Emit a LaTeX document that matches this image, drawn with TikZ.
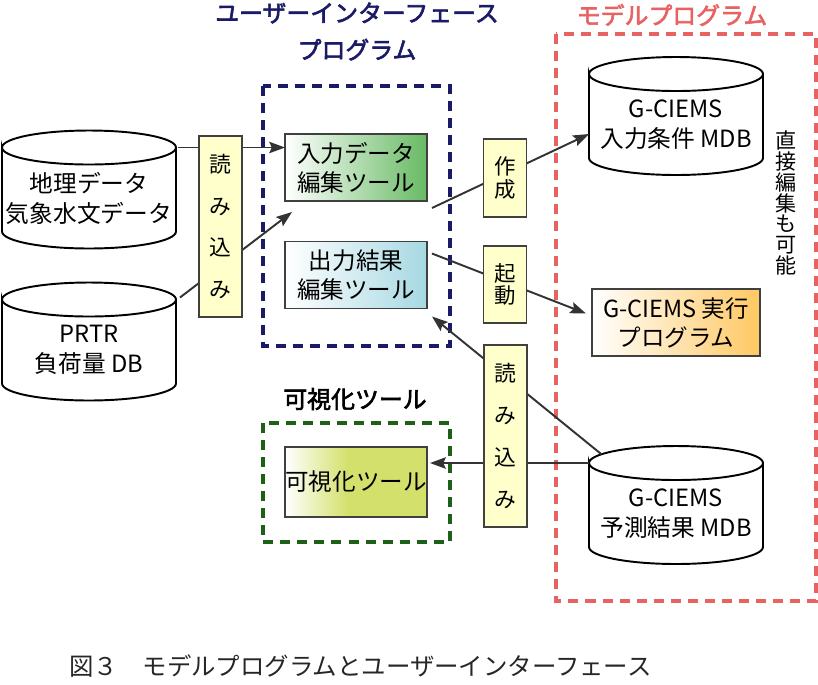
\documentclass[tikz,border=0pt]{standalone}
\usepackage{fontspec}
\setmainfont{Noto Sans CJK JP}
\newfontfamily\headfont[FakeBold=2.5]{Noto Sans CJK JP}
\usetikzlibrary{calc}
\usetikzlibrary{positioning}
\usetikzlibrary{arrows.meta}

\definecolor{uinavy}{RGB}{26,26,102}
\definecolor{modelred}{RGB}{232,98,98}
\definecolor{vizframe}{RGB}{30,96,24}
\definecolor{readfill}{RGB}{255,255,204}
\definecolor{ingreen}{RGB}{104,186,100}
\definecolor{outblue}{RGB}{166,216,226}
\definecolor{execorange}{RGB}{255,200,98}
\definecolor{vizgreen}{RGB}{212,224,108}
\definecolor{connline}{RGB}{51,51,51}
\pgfdeclarehorizontalshading{vizfade}{100bp}{color(0bp)=(white); color(25bp)=(white); color(47bp)=(vizgreen); color(100bp)=(vizgreen)}

\newcommand{\dbcylinder}[1]{%
  \draw[line width=1.1pt] ($(#1.north west)+(0,-17)$) arc[start angle=180, end angle=-180, x radius=1.74cm, y radius=0.34cm]
    -- (#1.south west) arc[start angle=180, end angle=360, x radius=1.74cm, y radius=0.34cm]
    -- ($(#1.north east)+(0,-17)$);}

\begin{document}
\begin{tikzpicture}[x=0.02cm, y=-0.02cm,
  db/.style={minimum width=3.48cm, minimum height=1.34cm, inner sep=0pt, outer sep=0pt, align=center, font=\fontsize{13.5}{17}\selectfont},
  tool/.style={draw=black!75, line width=0.85pt, minimum width=2.84cm, minimum height=1.34cm, inner sep=0pt, outer sep=0pt, align=center, font=\fontsize{13.4}{16.5}\selectfont},
  readbox/.style={draw=black!75, fill=readfill, line width=0.85pt, minimum width=0.86cm, inner sep=0pt, align=center},
  conn/.style={draw=connline, line width=1.1pt, -{Stealth[length=9pt, width=6.5pt, inset=1.5pt]}},
  groupbox/.style={line width=2pt, dash pattern=on 5.7pt off 4pt},
  title/.style={font=\headfont\fontsize{13.6}{21}\selectfont, align=center}]
\useasboundingbox (0,0) rectangle (818,684);

% group frames
\draw[groupbox, uinavy] (263,86) rectangle (450,346);
\draw[groupbox, modelred] (556,34) rectangle (816,601);
\draw[groupbox, vizframe] (263,423) rectangle (450,542);

% titles
\node[title, text=uinavy] (uititle) at (357,31.5) {ユーザーインターフェース\\プログラム};
\node[title, text=modelred] (modeltitle) at (672,15) {モデルプログラム};
\node[title] (viztitle) at (355,399) {可視化ツール};

% databases
\node[db] (geo) at (89,198) {地理データ\\気象水文データ};
\node[db] (prtr) at (89,350) {PRTR\\負荷量 DB};
\node[db] (inmdb) at (676,124.5) {G-CIEMS\\入力条件 MDB};
\node[db] (outmdb) at (676,513.5) {G-CIEMS\\予測結果 MDB};
\foreach \c in {geo,prtr,inmdb,outmdb} \dbcylinder{\c};

% tools
\node[tool, left color=white, right color=ingreen] (inedit) at (356,167.5) {入力データ\\編集ツール};
\node[tool, left color=white, right color=outblue] (outedit) at (356,275) {出力結果\\編集ツール};
\node[tool, left color=white, right color=execorange, minimum width=3.36cm] (exec) at (676,322.5) {G-CIEMS 実行\\プログラム};
\node[tool, shade, shading=vizfade, minimum height=1.4cm] (viz) at (356,482) {可視化ツール};

% connectors
\draw[conn] ($(geo.north east)+(2,-17)$) coordinate (geoout) -- (geoout -| inedit.west);
\draw[conn] ($(prtr.north east)+(4,-19)$) -- ($(inedit.south west)+(7,11)$);
\draw[conn] ($(inedit.south east)+(5,7)$) -- ($(inmdb.west)+(0,9.5)$);
\draw[conn] ($(outedit.north east)+(5,12)$) -- ($(exec.west)+(-6,-9)$);
\draw[conn] ($(outmdb.north)+(0,-17)+(149:1.74cm and 0.34cm)$) -- ($(outedit.south east)+(5,8)$);
\draw[conn] ($(outmdb.north west)+(0,-17)$) coordinate (mdbleft) -- ($(mdbleft -| viz.east)+(3,0)$);

% labels on the connectors
\node[readbox, minimum height=3.62cm, font=\fontsize{12.4}{23.8}\selectfont] (readA) at (220.5,226.5) {読\\み\\込\\み};
\node[readbox, minimum height=1.56cm, font=\fontsize{12.2}{12.6}\selectfont] (make) at (505,178) {作\\成};
\node[readbox, minimum height=1.54cm, font=\fontsize{12.2}{12.6}\selectfont] (start) at (505,284.5) {起\\動};
\node[readbox, minimum height=3.64cm, font=\fontsize{12.4}{23.8}\selectfont] (readB) at (505.5,436) {読\\み\\込\\み};

\node[font=\fontsize{12}{11.8}\selectfont, align=center] (direct) at (786,203) {直\\接\\編\\集\\も\\可\\能};

\node[anchor=west, inner sep=0pt, text=black!85, font=\fontsize{13.9}{16}\selectfont] (caption) at (69,666) {図３　モデルプログラムとユーザーインターフェース};
\end{tikzpicture}
\end{document}
